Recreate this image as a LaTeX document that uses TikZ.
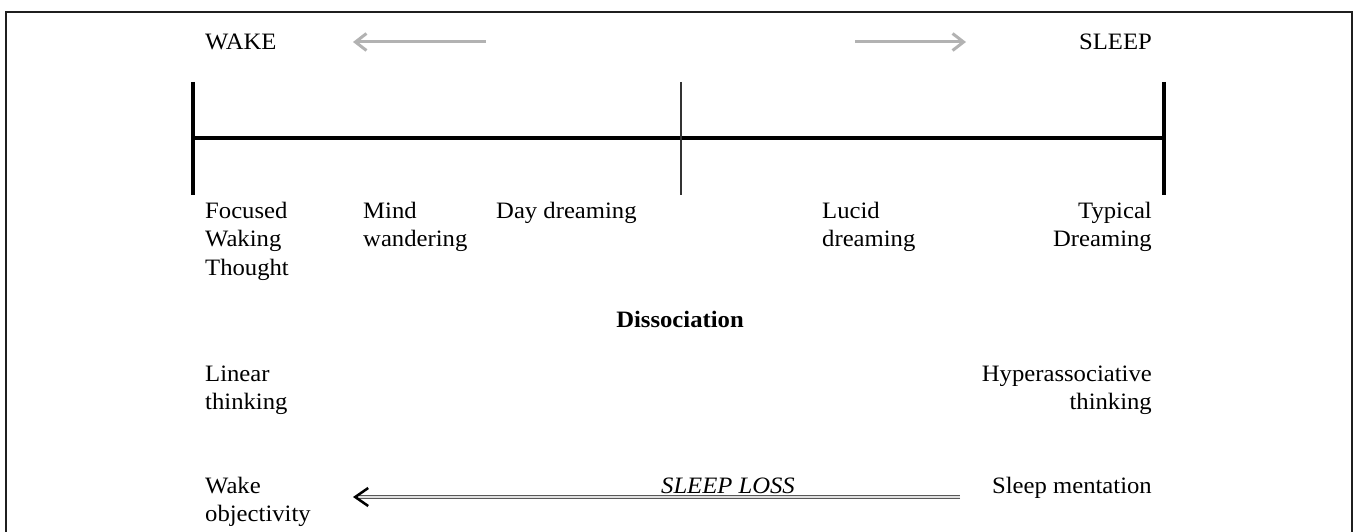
\documentclass[tikz,border=0pt]{standalone}
\usepackage{fontspec}
\setmainfont{Liberation Serif}[FakeStretch=1.05]
\usetikzlibrary{arrows.meta}
\newcommand\myfsz{\fontsize{23.5}{28.5}\selectfont}
\begin{document}
\begin{tikzpicture}[x=1pt,y=-1pt,
  txt/.style={inner sep=0pt, font=\myfsz},
  frameline/.style={draw=black!88, line width=2pt},
  axisline/.style={draw=black, line width=3.8pt},
  midline/.style={draw=black!80, line width=1.3pt},
  grayarrow/.style={draw=black!30, line width=3pt, -{Straight Barb[length=11pt,width=17pt,line width=3pt]}},
  lossarrow/.style={draw=black!65, double=black!12, double distance=1.4pt, line width=1pt,
     -{Straight Barb[length=13pt,width=18pt,line width=2.5pt,color=black]}}]
\useasboundingbox (0,0) rectangle (1357,532);
% frame
\coordinate (fbl) at (6,532);
\coordinate (ftl) at (6,12);
\coordinate (ftr) at (1352,12);
\coordinate (fbr) at (1352,532);
\draw[frameline] (fbl) -- (ftl) -- (ftr) -- (fbr);
% header
\node[txt, anchor=base west] (wake) at (205,50) {WAKE};
\node[txt, anchor=base east] (sleep) at (1152,50) {SLEEP};
\coordinate (gla) at (486,42);
\coordinate (glb) at (353,42);
\coordinate (gra) at (855,42);
\coordinate (grb) at (966,42);
\draw[grayarrow] (gla) -- (glb);
\draw[grayarrow] (gra) -- (grb);
% axis
\coordinate (lt) at (193,82);
\coordinate (lb) at (193,195);
\coordinate (rt) at (1164,82);
\coordinate (rb) at (1164,195);
\coordinate (mt) at (681,82);
\coordinate (mb) at (681,195);
\coordinate (axl) at (193,138);
\coordinate (axr) at (1164,138);
\draw[axisline] (lt) -- (lb);
\draw[axisline] (rt) -- (rb);
\draw[axisline, line width=3.4pt] (axl) -- (axr);
\draw[midline] (mt) -- (mb);
% labels under axis
\node[txt, anchor=base west] (foc) at (205,218) {\begin{tabular}[t]{@{}l@{}}Focused\\Waking\\Thought\end{tabular}};
\node[txt, anchor=base west] (mind) at (363,218) {\begin{tabular}[t]{@{}l@{}}Mind\\wandering\end{tabular}};
\node[txt, anchor=base west] (day) at (496,218) {Day dreaming};
\node[txt, anchor=base west] (lucid) at (822,218) {\begin{tabular}[t]{@{}l@{}}Lucid\\dreaming\end{tabular}};
\node[txt, anchor=base east] (typ) at (1152,218) {\begin{tabular}[t]{@{}r@{}}Typical\\Dreaming\end{tabular}};
% dissociation
\node[txt, font=\myfsz\bfseries, anchor=base] (diss) at (680,327) {Dissociation};
\node[txt, anchor=base west] (lin) at (205,381) {\begin{tabular}[t]{@{}l@{}}Linear\\thinking\end{tabular}};
\node[txt, anchor=base east] (hyp) at (1152,381) {\begin{tabular}[t]{@{}r@{}}Hyperassociative\\thinking\end{tabular}};
% sleep loss
\node[txt, anchor=base west] (wobj) at (205,493) {\begin{tabular}[t]{@{}l@{}}Wake\\objectivity\end{tabular}};
\node[txt, anchor=base east] (smen) at (1152,493) {Sleep mentation};
\coordinate (sla) at (960,497);
\coordinate (slb) at (353,497);
\draw[lossarrow] (sla) -- (slb);
\node[txt, font=\myfsz\itshape, anchor=base] (sloss) at (728,493) {SLEEP LOSS};
\end{tikzpicture}
\end{document}
